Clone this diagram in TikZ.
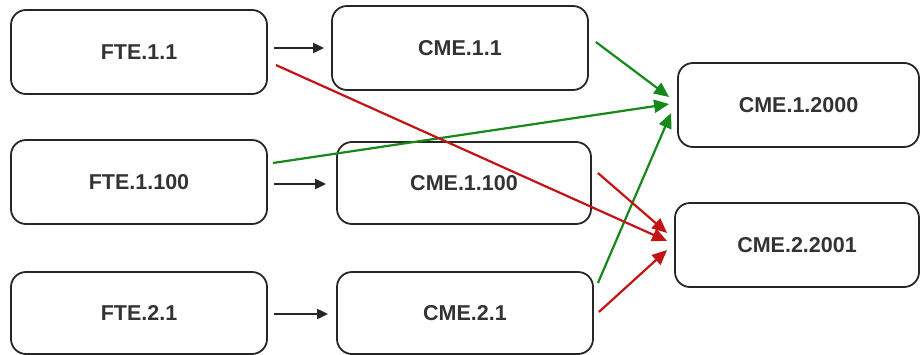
\documentclass[tikz,border=0pt]{standalone}
\usepackage{fontspec}
\setmainfont{Liberation Sans}
\usepackage{tikz}
\usetikzlibrary{arrows.meta}
\definecolor{boxline}{HTML}{262626}
\definecolor{labeltext}{HTML}{333333}
\definecolor{linkgreen}{HTML}{15891A}
\definecolor{linkred}{HTML}{C21414}

\begin{document}
\begin{tikzpicture}[x=1pt, y=-1pt,
  box/.style={draw=boxline, line width=1.8pt, rounded corners=15pt,
    minimum height=84pt, inner sep=0pt, text=labeltext,
    font=\fontsize{21.5}{24}\selectfont\bfseries},
  feed/.style={-{Triangle[length=11pt, width=10pt]}, line width=2pt, boxline},
  glink/.style={-{Triangle[length=15pt, width=13pt]}, line width=2.2pt, linkgreen},
  rlink/.style={-{Triangle[length=15pt, width=13pt]}, line width=2.2pt, linkred}]
  \useasboundingbox (0,0) rectangle (921,354);
  % left column
  \node[box, minimum width=256pt] (f11)   at (139,52)  {FTE.1.1};
  \node[box, minimum width=256pt] (f1100) at (139,182) {FTE.1.100};
  \node[box, minimum width=256pt, minimum height=82pt] (f21) at (139,313) {FTE.2.1};
  % middle column
  \node[box, minimum width=256pt] (c11)   at (460,48)  {CME.1.1};
  \node[box, minimum width=254pt, minimum height=82pt] (c1100) at (464,183) {CME.1.100};
  \node[box, minimum width=256pt, minimum height=82pt] (c21) at (465,313) {CME.2.1};
  % right column
  \node[box, minimum width=241pt] (c12000) at (798.5,105) {CME.1.2000};
  \node[box, minimum width=244pt] (c22001) at (797,245)   {CME.2.2001};
  % straight feeds
  \draw[feed] ([shift={(6,-4)}]f11.east) -- ([shift={(-7,0)}]c11.west);
  \draw[feed] ([shift={(6,2)}]f1100.east) -- ([shift={(-10,1)}]c1100.west);
  \draw[feed] ([shift={(6,1)}]f21.east) -- ([shift={(-8,1)}]c21.west);
  % green links into CME.1.2000
  \draw[glink] ([shift={(7,-6)}]c11.east) -- ([shift={(-8,-8)}]c12000.west);
  \draw[glink] ([shift={(5,-19)}]f1100.east) -- ([shift={(-8,-1)}]c12000.west);
  \draw[glink] ([shift={(4,-30)}]c21.east) -- ([shift={(-6,8)}]c12000.west);
  % red links into CME.2.2001
  \draw[rlink] ([shift={(8,13)}]f11.east) -- ([shift={(-7,-4)}]c22001.west);
  \draw[rlink] ([shift={(6,-10)}]c1100.east) -- ([shift={(-7,-12)}]c22001.west);
  \draw[rlink] ([shift={(5,-1)}]c21.east) -- ([shift={(-7,5)}]c22001.west);
\end{tikzpicture}
\end{document}
